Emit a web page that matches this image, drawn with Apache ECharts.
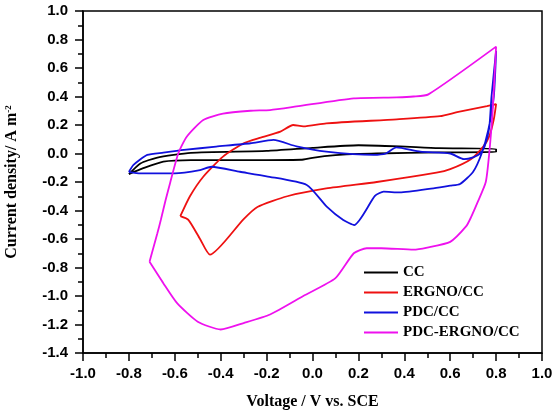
<!DOCTYPE html>
<html>
<head>
<meta charset="utf-8">
<script src="https://cdn.jsdelivr.net/npm/echarts@6/dist/echarts.min.js"></script>
<style>
    html, body { margin: 0; padding: 0; background: #fff; }
    #chart { width: 554px; height: 412px; }
</style>
</head>
<body>
<div id="chart"></div>
<script>
// CV loops: [voltage (V vs. SCE), current density (A m-2)]
const ccLoop = [
    [-0.80, -0.145], [-0.75, -0.07], [-0.68, -0.03], [-0.53, 0.005], [-0.20, 0.018],
    [0.00, 0.04], [0.20, 0.058], [0.38, 0.05], [0.55, 0.038], [0.80, 0.032],
    [0.80, 0.01], [0.55, 0.008], [0.28, 0.0], [0.20, -0.002], [0.10, -0.012],
    [0.00, -0.03], [-0.05, -0.044], [-0.20, -0.046], [-0.53, -0.046], [-0.65, -0.057],
    [-0.74, -0.105], [-0.80, -0.145]
];

const ergnoLoop = [
    [-0.576, -0.44], [-0.534, -0.30], [-0.476, -0.163], [-0.39, -0.022], [-0.30, 0.072],
    [-0.23, 0.11], [-0.14, 0.153], [-0.084, 0.20], [-0.04, 0.19], [0.06, 0.212],
    [0.367, 0.24], [0.556, 0.262], [0.63, 0.29], [0.76, 0.333], [0.80, 0.347],
    [0.79, 0.24], [0.77, 0.12], [0.745, 0.05], [0.69, -0.04], [0.60, -0.11],
    [0.54, -0.135], [0.28, -0.20], [0.06, -0.245], [-0.11, -0.30], [-0.24, -0.375],
    [-0.30, -0.46], [-0.447, -0.71], [-0.49, -0.60], [-0.54, -0.467], [-0.576, -0.44]
];

const pdcLoop = [
    [-0.80, -0.13], [-0.78, -0.08], [-0.72, -0.01], [-0.65, 0.006], [-0.56, 0.025],
    [-0.42, 0.048], [-0.27, 0.072], [-0.17, 0.095], [-0.07, 0.05], [0.06, 0.013],
    [0.265, -0.01], [0.32, 0.0], [0.365, 0.043], [0.47, 0.013], [0.60, 0.0],
    [0.66, -0.04], [0.70, -0.027], [0.73, 0.0], [0.75, 0.05], [0.77, 0.18],
    [0.78, 0.40], [0.80, 0.72],
    [0.79, 0.40], [0.766, 0.165], [0.737, 0.0], [0.70, -0.128], [0.643, -0.214],
    [0.60, -0.226], [0.527, -0.244], [0.38, -0.273], [0.31, -0.268], [0.272, -0.298],
    [0.182, -0.502], [0.134, -0.467], [0.062, -0.373], [-0.025, -0.221], [-0.20, -0.16],
    [-0.316, -0.128], [-0.44, -0.093], [-0.49, -0.116], [-0.60, -0.139], [-0.75, -0.139],
    [-0.80, -0.13]
];

const pdcErgnoLoop = [
    [-0.71, -0.76], [-0.70, -0.70], [-0.676, -0.56], [-0.661, -0.467], [-0.64, -0.326],
    [-0.621, -0.21], [-0.585, 0.0], [-0.548, 0.118], [-0.476, 0.235], [-0.39, 0.28],
    [-0.27, 0.30], [-0.185, 0.305], [-0.07, 0.33], [0.18, 0.387], [0.367, 0.394],
    [0.44, 0.40], [0.505, 0.415], [0.80, 0.75],
    [0.795, 0.60], [0.785, 0.30], [0.77, 0.0], [0.755, -0.20], [0.72, -0.34],
    [0.69, -0.45], [0.67, -0.51], [0.60, -0.62], [0.50, -0.66], [0.44, -0.675],
    [0.30, -0.665], [0.236, -0.665], [0.18, -0.70], [0.10, -0.875], [-0.04, -1.0],
    [-0.185, -1.13], [-0.30, -1.19], [-0.40, -1.235], [-0.50, -1.18], [-0.59, -1.05],
    [-0.65, -0.91], [-0.71, -0.76]
];

const seriesNames = ['CC', 'ERGNO/CC', 'PDC/CC', 'PDC-ERGNO/CC'];
const seriesColors = ['#000000', '#ee1111', '#1111dd', '#ee11ee'];
const loops = [ccLoop, ergnoLoop, pdcLoop, pdcErgnoLoop];

const sansBold = { fontFamily: 'Liberation Sans, Arial, sans-serif', fontWeight: 'bold', fontSize: 15, color: '#000' };
const serifFont = 'Liberation Serif, Times New Roman, serif';

function axisCommon() {
    return {
        type: 'value',
        splitLine: { show: false },
        axisLine: { show: true, onZero: false, lineStyle: { color: '#000', width: 1.5 } },
        axisTick: { show: true, length: 8, lineStyle: { color: '#000', width: 1.5 } },
        minorTick: { show: true, splitNumber: 2, length: 5, lineStyle: { color: '#000', width: 1.5 } },
        axisLabel: Object.assign({ formatter: v => v.toFixed(1) }, sansBold)
    };
}

const chart = echarts.init(document.getElementById('chart'), null, { renderer: 'canvas' });

const xAxis = Object.assign(axisCommon(), {
    min: -1.0, max: 1.0, interval: 0.2,
    name: 'Voltage / V vs. SCE',
    nameLocation: 'middle',
    nameGap: 41,
    nameTextStyle: { fontFamily: serifFont, fontWeight: 'bold', fontSize: 16, color: '#000' }
});
xAxis.axisLabel.margin = 13;

const yAxis = Object.assign(axisCommon(), {
    min: -1.4, max: 1.0, interval: 0.2,
    name: 'Current density/ A m{sup|-2}',
    nameLocation: 'middle',
    nameRotate: 90,
    nameGap: 63,
    nameTextStyle: {
        fontFamily: serifFont, fontWeight: 'bold', fontSize: 16, color: '#000',
        rich: {
            sup: { fontFamily: serifFont, fontWeight: 'bold', fontSize: 9, color: '#000', verticalAlign: 'top', lineHeight: 16 }
        }
    }
});
yAxis.axisLabel.margin = 15;

chart.setOption({
    animation: false,
    grid: {
        left: 83, right: 12, top: 11, bottom: 59,
        outerBoundsMode: 'none',
        show: true, borderColor: '#000', borderWidth: 1.5
    },
    xAxis: xAxis,
    yAxis: yAxis,
    legend: {
        orient: 'vertical',
        left: 364,
        top: 265,
        padding: 0,
        itemGap: 5,
        itemWidth: 34,
        itemHeight: 2,
        icon: 'rect',
        data: seriesNames,
        textStyle: { fontFamily: serifFont, fontWeight: 'bold', fontSize: 15, color: '#000', lineHeight: 15 }
    },
    series: loops.map((loop, i) => ({
        name: seriesNames[i],
        type: 'line',
        data: loop,
        showSymbol: false,
        smooth: 0.2,
        lineStyle: { color: seriesColors[i], width: 1.8 },
        itemStyle: { color: seriesColors[i] }
    }))
});
</script>
</body>
</html>
